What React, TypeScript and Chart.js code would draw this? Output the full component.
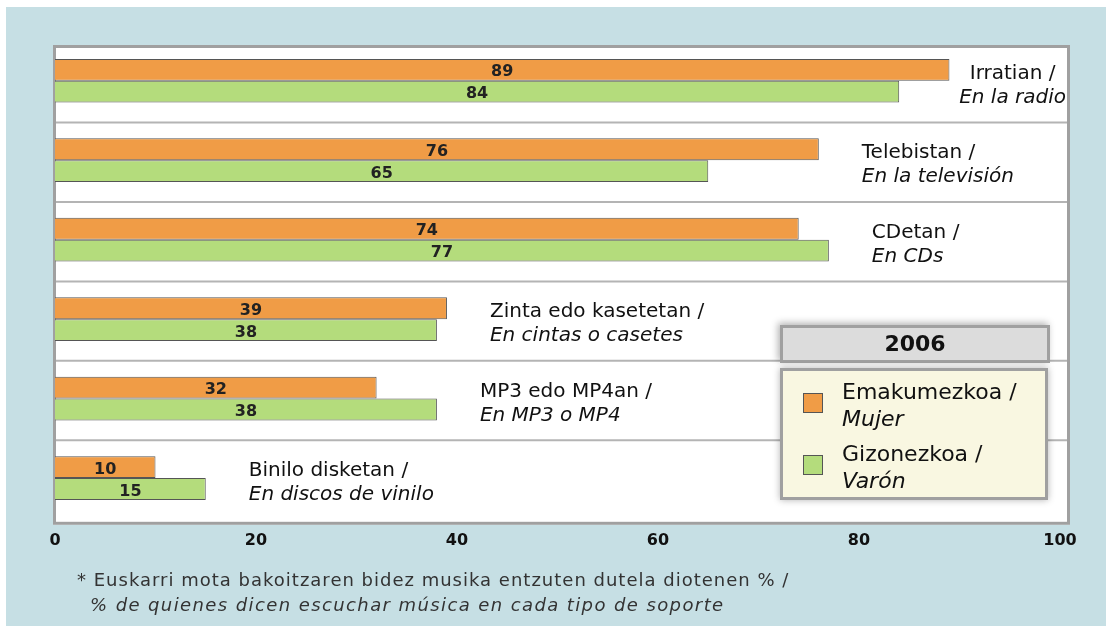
import React, { useEffect, useRef } from "react";
import { Chart, registerables } from "chart.js";

Chart.register(...registerables);

const categoriesEu = ["Irratian /", "Telebistan /", "CDetan /", "Zinta edo kasetetan /", "MP3 edo MP4an /", "Binilo disketan /"];
const categoriesEs = ["En la radio", "En la televisión", "En CDs", "En cintas o casetes", "En MP3 o MP4", "En discos de vinilo"];
const womenValues = [89, 76, 74, 39, 32, 10];
const menValues = [84, 65, 77, 38, 38, 15];
const seriesEu = ["Emakumezkoa /", "Gizonezkoa /"];
const seriesEs = ["Mujer", "Varón"];
const seriesColors = ["#f09c46", "#b4dc7c"];
const legendTitle = "2006";
const footnoteEu = "* Euskarri mota bakoitzaren bidez musika entzuten dutela diotenen % /";
const footnoteEs = "% de quienes dicen escuchar música en cada tipo de soporte";

const FONT = "'DejaVu Sans', Verdana, sans-serif";

const framePlugin = {
  id: "frame",
  beforeDraw(chart: any) {
    const { ctx, chartArea: a } = chart;
    ctx.save();
    const l = a.left - 2, t = a.top + 4, r = a.right + 10, b = a.bottom + 7;
    ctx.fillStyle = "#ffffff";
    ctx.fillRect(l, t, r - l, b - t);
    ctx.restore();
  },
  beforeDatasetsDraw(chart: any) {
    const { ctx, chartArea: a, scales } = chart;
    const y = scales.y;
    ctx.save();
    ctx.strokeStyle = "#b4b4b4";
    ctx.lineWidth = 2;
    for (let i = 0; i < categoriesEu.length - 1; i++) {
      const yy = (y.getPixelForValue(i) + y.getPixelForValue(i + 1)) / 2 + 2;
      ctx.beginPath();
      ctx.moveTo(a.left, yy);
      ctx.lineTo(a.right + 8, yy);
      ctx.stroke();
    }
    ctx.strokeStyle = "#a0a0a0";
    ctx.lineWidth = 3;
    const l = a.left - 0.5, t = a.top + 5.5, r = a.right + 8.5, b = a.bottom + 5.5;
    ctx.strokeRect(l, t, r - l, b - t);
    ctx.restore();
  },
  afterDatasetsDraw(chart: any) {
    const { ctx, chartArea: a, scales } = chart;
    const x = scales.x, y = scales.y;
    ctx.save();
    ctx.font = `bold 16px ${FONT}`;
    ctx.fillStyle = "#222";
    ctx.textAlign = "center";
    ctx.textBaseline = "middle";
    chart.data.datasets.forEach((ds: any, di: number) => {
      const meta = chart.getDatasetMeta(di);
      meta.data.forEach((el: any, j: number) => {
        const cx = (el.x + el.base) / 2;
        ctx.fillText(String(ds.data[j]), cx, el.y + 2.5);
      });
    });
    const rightLimit = a.right + 6;
    ctx.fillStyle = "#111";
    ctx.textBaseline = "middle";
    for (let i = 0; i < categoriesEu.length; i++) {
      const maxV = Math.max(womenValues[i], menValues[i]);
      const cy = y.getPixelForValue(i);
      ctx.font = `20px ${FONT}`;
      const w1 = ctx.measureText(categoriesEu[i]).width;
      ctx.font = `italic 20px ${FONT}`;
      const w2 = ctx.measureText(categoriesEs[i]).width;
      const maxW = Math.max(w1, w2);
      const xs = x.getPixelForValue(maxV) + 43;
      let px = xs;
      if (xs + maxW > rightLimit) {
        px = rightLimit - maxW / 2;
        ctx.textAlign = "center";
      } else {
        ctx.textAlign = "left";
      }
      ctx.font = `20px ${FONT}`;
      ctx.fillText(categoriesEu[i], px, cy - 7);
      ctx.font = `italic 20px ${FONT}`;
      ctx.fillText(categoriesEs[i], px, cy + 17);
    }
    ctx.restore();
  },
};

export default function App() {
  const canvasRef = useRef<HTMLCanvasElement | null>(null);

  useEffect(() => {
    if (!canvasRef.current) return;
    const chart = new Chart(canvasRef.current, {
      type: "bar",
      data: {
        labels: categoriesEu.map((c, i) => `${c} ${categoriesEs[i]}`),
        datasets: [
          {
            label: `${seriesEu[0]} ${seriesEs[0]}`,
            data: womenValues,
            backgroundColor: seriesColors[0],
            borderColor: "#555",
            borderWidth: 1,
            categoryPercentage: 0.55,
            barPercentage: 1.0,
          },
          {
            label: `${seriesEu[1]} ${seriesEs[1]}`,
            data: menValues,
            backgroundColor: seriesColors[1],
            borderColor: "#555",
            borderWidth: 1,
            categoryPercentage: 0.55,
            barPercentage: 1.0,
          },
        ],
      },
      options: {
        indexAxis: "y",
        responsive: false,
        animation: false,
        devicePixelRatio: 1,
        layout: { padding: { left: 55, right: 46, top: 41, bottom: 64 } },
        plugins: { legend: { display: false }, tooltip: { enabled: false } },
        scales: {
          x: {
            min: 0,
            max: 100,
            ticks: { stepSize: 20, padding: 13, color: "#111", font: { family: FONT, size: 16, weight: "bold" } },
            grid: { display: false, drawTicks: false },
            border: { display: false },
          },
          y: {
            display: false,
            grid: { display: false },
          },
        },
      } as any,
      plugins: [framePlugin],
    });
    return () => chart.destroy();
  }, []);

  return (
    <div style={{ position: "fixed", left: 0, top: 0, width: 1106, height: 627, background: "#fff", overflow: "hidden" }}>
      <div style={{ position: "absolute", left: 6, top: 7, width: 1100, height: 619, background: "#c6dfe4" }} />
      <canvas ref={canvasRef} width={1106} height={627} style={{ position: "absolute", left: 0, top: 0 }} />
      <div
        style={{
          position: "absolute", left: 780, top: 325, width: 264, height: 32,
          background: "#dcdcdc", border: "3px solid #a0a0a0",
          boxShadow: "-2px -2px 7px rgba(0,0,0,0.3)",
          fontFamily: FONT, fontWeight: "bold", fontSize: 22, color: "#111",
          textAlign: "center", lineHeight: "32px",
        }}
      >
        {legendTitle}
      </div>
      <div
        style={{
          position: "absolute", left: 780, top: 368, width: 262, height: 126,
          background: "#f9f7e1", border: "3px solid #a0a0a0",
          boxShadow: "0 0 7px rgba(0,0,0,0.3)",
          fontFamily: FONT, fontSize: 22, color: "#111",
        }}
      >
        {seriesEu.map((s, i) => (
          <div key={i} style={{ position: "absolute", left: 0, top: 8 + i * 62, width: 262, height: 56 }}>
            <div style={{ position: "absolute", left: 20, top: 14, width: 18, height: 18, background: seriesColors[i], border: "1px solid #555" }} />
            <div style={{ position: "absolute", left: 59, top: -1, lineHeight: "27px", whiteSpace: "nowrap" }}>
              <div>{s}</div>
              <div style={{ fontStyle: "italic" }}>{seriesEs[i]}</div>
            </div>
          </div>
        ))}
      </div>
      <div
        style={{
          position: "absolute", left: 77, top: 567, fontFamily: FONT, fontWeight: "normal",
          fontSize: 18, color: "#333", lineHeight: "25px", whiteSpace: "nowrap",
        }}
      >
        <div style={{ letterSpacing: "1.0px" }}>{footnoteEu}</div>
        <div style={{ fontStyle: "italic", paddingLeft: 13, letterSpacing: "1.4px" }}>{footnoteEs}</div>
      </div>
    </div>
  );
}
